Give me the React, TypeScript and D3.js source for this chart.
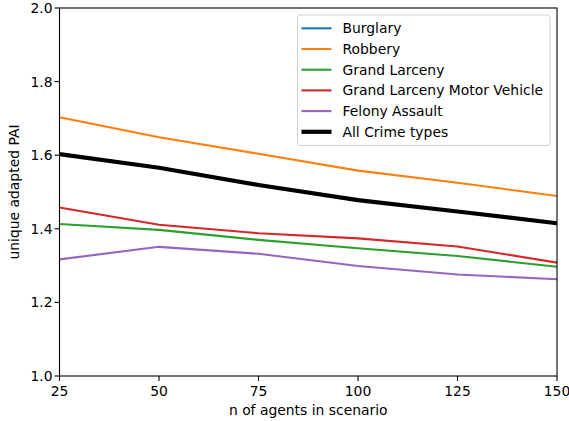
import React from "react";
import * as d3 from "d3";

const agents = [25, 50, 75, 100, 125, 150];
const burglary = [2.35, 2.28, 2.22, 2.17, 2.12, 2.08];
const robbery = [1.703, 1.649, 1.604, 1.558, 1.525, 1.489];
const grandLarceny = [1.413, 1.397, 1.370, 1.347, 1.326, 1.297];
const grandLarcenyMV = [1.458, 1.411, 1.388, 1.374, 1.352, 1.308];
const felonyAssault = [1.317, 1.351, 1.332, 1.299, 1.276, 1.263];
const allCrime = [1.603, 1.566, 1.519, 1.478, 1.447, 1.415];

const xTicks = [25, 50, 75, 100, 125, 150];
const yTicks = [1.0, 1.2, 1.4, 1.6, 1.8, 2.0];

const seriesNames = ["Burglary", "Robbery", "Grand Larceny", "Grand Larceny Motor Vehicle", "Felony Assault", "All Crime types"];
const seriesValues = [burglary, robbery, grandLarceny, grandLarcenyMV, felonyAssault, allCrime];
const seriesColors = ["#1f77b4", "#ff7f0e", "#2ca02c", "#d62728", "#9467bd", "#000000"];
const seriesWidths = [2.1, 2.1, 2.1, 2.1, 2.1, 4.2];

export default function App() {
  const W = 569, H = 421;
  const left = 59.5, right = 557, top = 8, bottom = 376;
  const x = d3.scaleLinear().domain([25, 150]).range([left, right]);
  const y = d3.scaleLinear().domain([1.0, 2.0]).range([bottom, top]);
  const line = d3.line<number>().x((_, i) => x(agents[i])).y((d) => y(d));
  const font = "DejaVu Sans, sans-serif";
  const fs = 13.9;
  const legX = 297.5, legY = 15, legW = 252.5, legH = 130.5;
  const rowH = 20.7;
  return (
    <svg width={W} height={H} style={{ position: "absolute", left: 0, top: 0, background: "#fff" }} fontFamily={font}>
      <defs>
        <clipPath id="plotclip">
          <rect x={left} y={top} width={right - left} height={bottom - top} />
        </clipPath>
      </defs>
      <rect x={0} y={0} width={W} height={H} fill="#fff" />
      <g clipPath="url(#plotclip)">
        {seriesValues.map((vals, i) => (
          <path key={i} d={line(vals) || ""} fill="none" stroke={seriesColors[i]} strokeWidth={seriesWidths[i]} strokeLinejoin="round" strokeLinecap="butt" />
        ))}
      </g>
      <rect x={left} y={top} width={right - left} height={bottom - top} fill="none" stroke="#000" strokeWidth={1.1} />
      {xTicks.map((t) => (
        <g key={"x" + t}>
          <line x1={x(t)} x2={x(t)} y1={bottom} y2={bottom + 4.9} stroke="#000" strokeWidth={1.1} />
          <text x={x(t)} y={bottom + 20} textAnchor="middle" fontSize={fs} fill="#000">{t}</text>
        </g>
      ))}
      {yTicks.map((t) => (
        <g key={"y" + t}>
          <line x1={left - 4.9} x2={left} y1={y(t)} y2={y(t)} stroke="#000" strokeWidth={1.1} />
          <text x={left - 7} y={y(t)} dy="0.36em" textAnchor="end" fontSize={fs} fill="#000">{t.toFixed(1)}</text>
        </g>
      ))}
      <text x={(left + right) / 2} y={415} textAnchor="middle" fontSize={fs} fill="#000">n of agents in scenario</text>
      <text transform={`translate(18.5,${(top + bottom) / 2}) rotate(-90)`} textAnchor="middle" fontSize={fs} fill="#000">unique adapted PAI</text>
      <rect x={legX} y={legY} width={legW} height={legH} rx={3} fill="#fff" fillOpacity={0.8} stroke="#d0d0d0" strokeWidth={1} />
      {seriesNames.map((n, i) => {
        const cy = 28.3 + i * rowH;
        return (
          <g key={n}>
            <line x1={301.5} x2={331.5} y1={cy} y2={cy} stroke={seriesColors[i]} strokeWidth={seriesWidths[i]} />
            <text x={342.5} y={cy} dy="0.36em" fontSize={fs} fill="#000">{n}</text>
          </g>
        );
      })}
    </svg>
  );
}
